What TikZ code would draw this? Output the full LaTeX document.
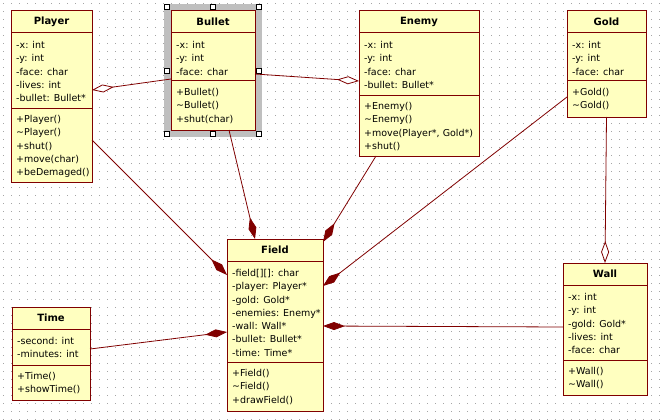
\documentclass[tikz,border=0pt]{standalone}
\usepackage{fontspec}
\setmainfont{DejaVu Sans}
\usetikzlibrary{arrows.meta}
\definecolor{umlfill}{RGB}{255,255,192}
\definecolor{umlred}{RGB}{128,0,0}
\definecolor{dotgray}{RGB}{165,165,165}

\tikzset{
    classbox/.style={rectangle, draw=umlred, fill=umlfill, line width=1pt, anchor=north west, inner sep=0pt, outer sep=0pt},
    classline/.style={draw=umlred, line width=1pt},
    classtitle/.style={inner sep=0pt, font=\fontsize{10}{12}\selectfont\bfseries},
    members/.style={anchor=north west, inner sep=0pt, align=left, font=\fontsize{9.5}{13.3}\selectfont},
    composition/.style={draw=umlred, line width=0.8pt, -{Diamond[length=22pt, width=8pt]}},
    aggregation/.style={draw=umlred, line width=0.8pt, -{Diamond[length=22pt, width=8pt, fill=white]}},
    griddot/.style={draw=dotgray, line width=1pt, dash pattern=on 1pt off 7pt},
    handle/.style={draw=black, fill=white, line width=0.8pt}
}

\begin{document}
\begin{tikzpicture}[x=1pt, y=-1pt]

        \useasboundingbox (0,0) rectangle (664,420);
        \fill[white] (0,0) rectangle (664,420);  %Hintergrund

        \foreach \y in {3.5, 11.5,..., 419.5}  %Punktraster
            {
                \draw[griddot] (3,\y) -- (664,\y);
            };

        \fill[black!25] (164,4) rectangle (262,137);  %Auswahlrahmen um Bullet
        \foreach \hx/\hy in {166.5/6.5, 212.5/6.5, 258.5/6.5, 166.5/70.5, 258.5/70.5, 166.5/134, 212.5/134, 258.5/134}
            {
                \draw[handle] ({\hx-2.5},{\hy-2.5}) rectangle ({\hx+2.5},{\hy+2.5});  %Anfasser
            };

        \foreach \cname/\xa/\ya/\xb/\yb/\sa/\sb/\ctitle in {
                player/11/11/92/182/33/108/Player,
                bullet/171/11/255/130/33/81/Bullet,
                enemy/359/11/479/156/33/95/Enemy,
                gold/567/11/646/117/33/81/Gold,
                field/227/239/323/411/261/362/Field,
                time/12/307/90/400/329/365/Time,
                wall/563/263/647/395/285/360/Wall
            }
            {
                \node[classbox, minimum width={(\xb-\xa)*1pt}, minimum height={(\yb-\ya)*1pt}] (\cname) at (\xa,\ya) {};  %Klassenkasten
                \draw[classline] (\xa,\sa) -- (\xb,\sa);  %Trennlinie unter dem Namen
                \draw[classline] (\xa,\sb) -- (\xb,\sb);  %Trennlinie unter den Attributen
                \node[classtitle] (\cname-title) at ({(\xa+\xb)/2},{(\ya+\sa)/2}) {\ctitle};
            };

        % Attribute und Methoden
        \node[members] (player-attrs) at (16,41) {-x: int\\-y: int\\-face: char\\-lives: int\\-bullet: Bullet*};
        \node[members] (player-ops) at (16,115) {+Player()\\\textasciitilde Player()\\+shut()\\+move(char)\\+beDemaged()};
        \node[members] (bullet-attrs) at (176,41) {-x: int\\-y: int\\-face: char};
        \node[members] (bullet-ops) at (176,88) {+Bullet()\\\textasciitilde Bullet()\\+shut(char)};
        \node[members] (enemy-attrs) at (364,41) {-x: int\\-y: int\\-face: char\\-bullet: Bullet*};
        \node[members] (enemy-ops) at (364,102) {+Enemy()\\\textasciitilde Enemy()\\+move(Player*, Gold*)\\+shut()};
        \node[members] (gold-attrs) at (572,41) {-x: int\\-y: int\\-face: char};
        \node[members] (gold-ops) at (572,88) {+Gold()\\\textasciitilde Gold()};
        \node[members] (field-attrs) at (232,269) {-field[][]: char\\-player: Player*\\-gold: Gold*\\-enemies: Enemy*\\-wall: Wall*\\-bullet: Bullet*\\-time: Time*};
        \node[members] (field-ops) at (232,369) {+Field()\\\textasciitilde Field()\\+drawField()};
        \node[members] (time-attrs) at (17,337) {-second: int\\-minutes: int};
        \node[members] (time-ops) at (17,372) {+Time()\\+showTime()};
        \node[members] (wall-attrs) at (568,293) {-x: int\\-y: int\\-gold: Gold*\\-lives: int\\-face: char};
        \node[members] (wall-ops) at (568,367) {+Wall()\\\textasciitilde Wall()};

        \draw[aggregation] ([yshift=-68pt]bullet.north west) -- ([yshift=-79pt]player.north east);  %Player hat Bullet
        \draw[aggregation] ([yshift=-63pt]bullet.north east) -- ([yshift=-70pt]enemy.north west);  %Enemy hat Bullet
        \draw[aggregation] (gold.south) -- (wall.north);  %Wall hat Gold

        \draw[composition] ([yshift=-129pt]player.north east) -- ([yshift=-36pt]field.north west);
        \draw[composition] ([xshift=58pt]bullet.south west) -- ([xshift=28pt]field.north west);
        \draw[composition] ([xshift=17pt]enemy.south west) -- ([yshift=-3pt]field.north east);
        \draw[composition] ([yshift=-86pt]gold.north west) -- ([yshift=-47pt]field.north east);
        \draw[composition] ([yshift=-64pt]wall.north west) -- ([yshift=-87pt]field.north east);
        \draw[composition] ([yshift=-42pt]time.north east) -- ([yshift=-93pt]field.north west);

\end{tikzpicture}
\end{document}
